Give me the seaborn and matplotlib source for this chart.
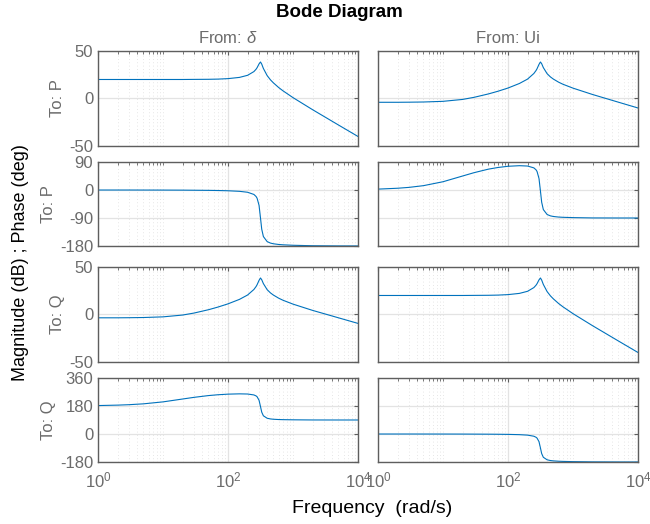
import numpy as np
import pandas as pd
import matplotlib
matplotlib.use("Agg")
import matplotlib.pyplot as plt
import seaborn as sns
from matplotlib.ticker import LogLocator, NullFormatter

freq = [1, 2, 3, 5, 10, 20, 30, 50, 70, 100, 150, 200, 250, 270, 280, 300, 316,
        330, 350, 400, 450, 500, 600, 700, 1000, 2000, 5000, 10000]

# From: delta -> To: P
mag_P_delta = [20.0, 20.0, 20.0, 20.0, 20.0, 20.0, 20.1, 20.2, 20.4, 20.9, 22.2, 24.4, 28.3, 30.8,
               32.4, 36.4, 38.4, 36.2, 31.6, 24.1, 19.6, 16.4, 11.6, 8.1, 0.9, -11.8, -27.9, -40.0]
phase_P_delta = [0, 0, 0, -0.1, -0.2, -0.4, -0.7, -1.1, -1.6, -2.4, -4.2, -7.2, -14.2, -20.8,
                 -26.3, -49.0, -90.0, -125.8, -149.6, -165.8, -170.6, -172.8, -175.0, -176.1,
                 -177.6, -179.1, -179.7, -179.8]

# From: Ui -> To: P
mag_P_ui = [-4.0, -4.0, -3.9, -3.7, -3.0, -1.0, 1.2, 4.8, 7.6, 11.0, 15.8, 20.4, 26.3, 29.4,
            31.3, 35.9, 38.4, 36.6, 32.5, 26.1, 22.7, 20.4, 17.2, 15.0, 10.9, 4.2, -3.9, -10.0]
phase_P_ui = [2.9, 5.7, 8.5, 14.0, 26.6, 45.0, 55.7, 67.1, 72.4, 76.3, 78.2, 77.1, 71.2, 65.0,
              59.6, 37.2, -3.6, -39.3, -62.9, -78.7, -83.1, -85.1, -86.9, -87.7, -88.7, -89.7,
              -89.9, -89.9]

# From: delta -> To: Q
mag_Q_delta = [-3.5, -3.5, -3.4, -3.2, -2.5, -0.6, 1.5, 5.0, 7.8, 11.2, 15.9, 20.5, 26.3, 29.4,
               31.3, 35.9, 38.4, 36.6, 32.5, 26.1, 22.7, 20.4, 17.2, 15.0, 10.9, 4.3, -3.5, -9.4]
phase_Q_delta = [182.9, 185.7, 188.5, 194.0, 206.6, 225.0, 235.7, 247.1, 252.4, 256.3, 258.2,
                 257.1, 251.2, 245.0, 239.6, 217.2, 176.4, 140.7, 117.1, 101.3, 96.9, 94.9,
                 93.1, 92.3, 91.3, 90.3, 90.1, 90.1]

# From: Ui -> To: Q
mag_Q_ui = [20.0, 20.0, 20.0, 20.0, 20.0, 20.0, 20.1, 20.2, 20.4, 20.9, 22.2, 24.4, 28.3, 30.8,
            32.4, 36.4, 38.4, 36.2, 31.6, 24.1, 19.6, 16.4, 11.6, 8.1, 0.9, -11.8, -27.9, -40.0]
phase_Q_ui = [0, 0, 0, -0.1, -0.2, -0.4, -0.7, -1.1, -1.6, -2.4, -4.2, -7.2, -14.2, -20.8,
              -26.3, -49.0, -90.0, -125.8, -149.6, -165.8, -170.6, -172.8, -175.0, -176.1,
              -177.6, -179.1, -179.7, -179.8]

inputs = ["From: $\\delta$", "From: Ui"]
outputs = ["To: P", "To: P", "To: Q", "To: Q"]
mag_ticks = [-50, 0, 50]
phaseP_ticks = [-180, -90, 0, 90]
phaseQ_ticks = [-180, 0, 180, 360]

sns.set_theme(style="white")
plt.rcParams["font.family"] = ["Liberation Sans", "DejaVu Sans"]
plt.rcParams["mathtext.fontset"] = "custom"
plt.rcParams["mathtext.rm"] = "Liberation Sans"
plt.rcParams["mathtext.it"] = "Liberation Sans:italic"
plt.rcParams["axes.unicode_minus"] = False

grey = "#5e5e5e"
txt_grey = "#6b6b6b"
blue = "#0072BD"

fig = plt.figure(figsize=(6.5, 5.24), dpi=100)

lefts = [0.1508, 0.5815]
rows = [(0.7214, 0.1813), (0.5305, 0.1603), (0.3092, 0.1813), (0.1183, 0.1603)]

series = [[mag_P_delta, mag_P_ui], [phase_P_delta, phase_P_ui],
          [mag_Q_delta, mag_Q_ui], [phase_Q_delta, phase_Q_ui]]
ylims = [(-50, 50), (-180, 90), (-50, 50), (-180, 360)]
yticks = [mag_ticks, phaseP_ticks, mag_ticks, phaseQ_ticks]

for r in range(4):
    for c in range(2):
        b, h = rows[r]
        ax = fig.add_axes([lefts[c], b, 0.4, h])
        df = pd.DataFrame({"w": freq, "v": series[r][c]})
        sns.lineplot(data=df, x="w", y="v", ax=ax, color=blue, linewidth=0.8)
        ax.set_xscale("log")
        ax.set_xlim(1, 1e4)
        ax.set_ylim(*ylims[r])
        ax.set_yticks(yticks[r])
        ax.set_xticks([1, 100, 10000])
        ax.xaxis.set_minor_locator(LogLocator(base=10, subs=np.arange(1, 10), numticks=20))
        ax.xaxis.set_minor_formatter(NullFormatter())
        ax.grid(True, which="major", color="#e3e3e3", linewidth=0.9, linestyle="-")
        ax.grid(True, which="minor", axis="x", color="#dedede", linewidth=0.6, linestyle=(0, (1, 3)))
        ax.set_axisbelow(True)
        for s in ax.spines.values():
            s.set_color(grey)
            s.set_linewidth(1.0)
        ax.tick_params(which="both", direction="in", top=True, right=True, color=grey,
                       labelcolor=txt_grey, labelsize=12)
        ax.tick_params(which="major", length=3, width=0.8)
        ax.tick_params(which="minor", length=2, width=0.6)
        ax.tick_params(axis="y", which="minor", left=False, right=False)
        ax.set_xlabel("")
        if c == 0:
            ax.set_ylabel(outputs[r], color=txt_grey, fontsize=12, labelpad=3)
        else:
            ax.set_ylabel("")
            ax.tick_params(axis="y", labelleft=False)
        if r < 3:
            ax.tick_params(axis="x", labelbottom=False)
        else:
            ax.tick_params(axis="x", pad=6)
        if r == 0:
            ax.set_title(inputs[c], color=txt_grey, fontsize=12, pad=6)

fig.text(0.522, 0.976, "Bode Diagram", ha="center", va="center", fontsize=13.5,
         fontweight="bold", color="black")
fig.text(0.572, 0.030, "Frequency  (rad/s)", ha="center", va="center", fontsize=14,
         color="black")
fig.text(0.031, 0.498, "Magnitude (dB) ; Phase (deg)", ha="center", va="center",
         rotation=90, fontsize=13, color="black")

fig.savefig("out.png", dpi=100)
